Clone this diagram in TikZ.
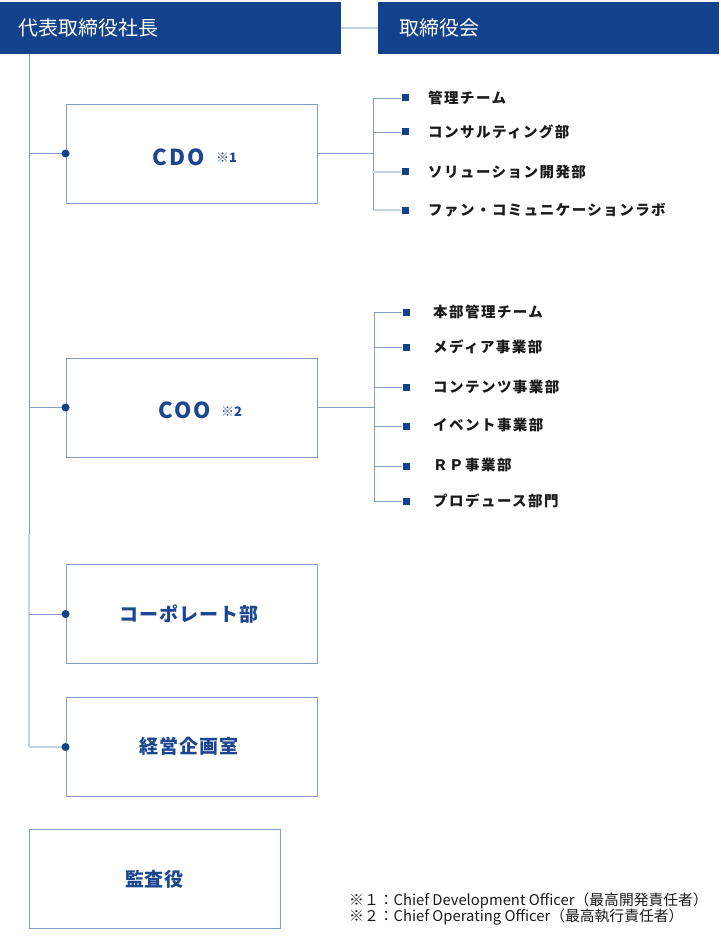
\documentclass[tikz,border=0pt]{standalone}
\usepackage{fontspec}
\setmainfont{Noto Sans CJK JP}
\definecolor{navy}{RGB}{18,66,140}
\definecolor{lbl}{RGB}{28,70,144}
\definecolor{edge}{RGB}{132,158,204}
\definecolor{pale}{RGB}{196,210,230}
\definecolor{ink}{RGB}{26,26,26}
\begin{document}
\begin{tikzpicture}[x=1pt,y=-1pt,
  head/.style={fill=navy, draw=none, minimum width=341pt, minimum height=52pt, inner sep=0},
  headtxt/.style={text=white, font=\fontsize{20}{24}\selectfont, anchor=west, inner sep=0},
  unit/.style={draw=edge, line width=0.9pt, minimum width=251pt, minimum height=99pt, inner sep=0},
  unittxt/.style={text=lbl, font=\fontsize{19}{22}\selectfont\bfseries\addfontfeature{LetterSpace=5}, inner sep=0},
  latintxt/.style={text=lbl, font=\fontsize{22}{26}\selectfont\bfseries\addfontfeature{LetterSpace=10}, inner sep=0, anchor=base west},
  marktxt/.style={text=lbl, font=\fontsize{13}{15}\selectfont\bfseries, inner sep=0, anchor=base west},
  link/.style={draw=edge, line width=0.9pt},
  palelink/.style={draw=pale, line width=1.4pt},
  dot/.style={circle, fill=navy, inner sep=0, minimum size=8pt},
  sq/.style={fill=navy, inner sep=0, minimum size=7pt},
  item/.style={text=ink, anchor=west, font=\fontsize{14.5}{17}\selectfont\bfseries\addfontfeature{LetterSpace=10}, inner sep=0},
  note/.style={text=ink, anchor=west, font=\fontsize{14.8}{16}\selectfont, inner sep=0},
]
\useasboundingbox (0,0) rectangle (720,944);

% top row
\node[head] (pres) at (170.5,28) {};
\node[head] (board) at (548.5,28) {};
\node[headtxt] (presT) at (18,28) {代表取締役社長};
\node[headtxt] (boardT) at (399,28) {取締役会};
\draw[palelink] (pres.east) -- (board.west);

% unit boxes
\node[unit] (cdo) at (191.5,153.5) {};
\node[unit] (coo) at (191.5,407.5) {};
\node[unit] (corp) at (191.5,614) {};
\node[unit] (plan) at (191.5,747) {};
\node[unit] (audit) at (154.5,879) {};

\node[latintxt] (cdoT) at (152,165) {CDO};
\node[marktxt] (cdoN) at (216,163) {※1};
\node[latintxt] (cooT) at (158,418) {COO};
\node[marktxt] (cooN) at (221,416) {※2};
\node[unittxt] (corpT) at (189,614) {コーポレート部};
\node[unittxt] (planT) at (189,746) {経営企画室};
\node[unittxt] (auditT) at (154.5,879) {監査役};

% trunk
\coordinate (t0) at (29,54);
\coordinate (tm) at (29,535);
\coordinate (t4) at (29,747);
\draw[link] (t0) -- (tm);
\draw[palelink] (tm) -- (t4);
\draw[link] (t0 |- cdo.west) -- (cdo.west);
\draw[link] (t0 |- coo.west) -- (coo.west);
\draw[link] (t0 |- corp.west) -- (corp.west);
\draw[palelink] (t4) -- (plan.west);
\node[dot] at (cdo.west) {};
\node[dot] at (coo.west) {};
\node[dot] at (corp.west) {};
\node[dot] at (plan.west) {};

% CDO branch
\coordinate (b1) at (373,153.5);
\node[sq] (s11) at (405,98) {};
\node[sq] (s12) at (405,132) {};
\node[sq] (s13) at (405,172) {};
\node[sq] (s14) at (405,210) {};
\node[item] (i11) at (428,98) {管理チーム};
\node[item] (i12) at (428,132) {コンサルティング部};
\node[item] (i13) at (428,172) {ソリューション開発部};
\node[item] (i14) at (428,210) {ファン・コミュニケーションラボ};
\draw[link] (cdo.east) -- (b1);
\draw[link] (b1 |- s11) -- (b1 |- s14);
\draw[link] (b1 |- s11) -- (s11);
\draw[link] (b1 |- s12) -- (s12);
\draw[palelink] (b1 |- s13) -- (s13);
\draw[palelink] (b1 |- s14) -- (s14);

% COO branch
\coordinate (b2) at (374,407.5);
\node[sq] (s21) at (406,312) {};
\node[sq] (s22) at (406,347) {};
\node[sq] (s23) at (406,387) {};
\node[sq] (s24) at (406,426) {};
\node[sq] (s25) at (406,466) {};
\node[sq] (s26) at (406,501) {};
\node[item] (i21) at (433,312) {本部管理チーム};
\node[item] (i22) at (433,347) {メディア事業部};
\node[item] (i23) at (433,387) {コンテンツ事業部};
\node[item] (i24) at (433,425) {イベント事業部};
\node[item] (i25) at (433,465) {ＲＰ事業部};
\node[item] (i26) at (433,501) {プロデュース部門};
\draw[link] (coo.east) -- (b2);
\draw[link] (b2 |- s21) -- (b2 |- s26);
\foreach \s in {s21,s22,s23,s24,s25,s26} \draw[link] (b2 |- \s) -- (\s);

% notes
\node[note] (n1) at (349,901) {※１：Chief Development Officer（最高開発責任者）};
\node[note] (n2) at (349,917) {※２：Chief Operating Officer（最高執行責任者）};
\end{tikzpicture}
\end{document}
